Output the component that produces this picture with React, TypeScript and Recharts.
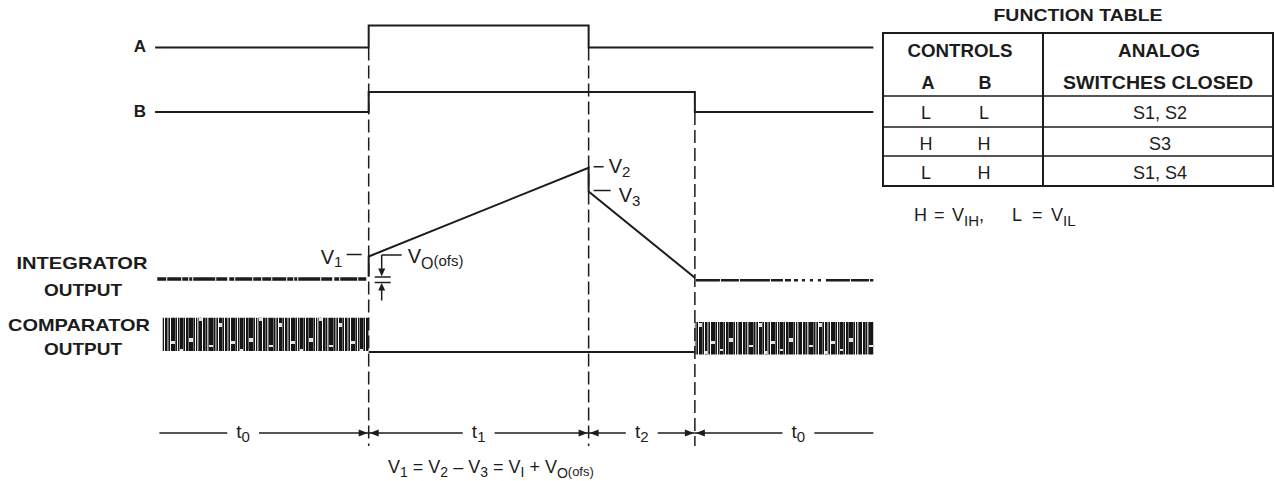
import React from "react";
import {
  ComposedChart,
  Line,
  XAxis,
  YAxis,
  ReferenceLine,
  ReferenceArea,
  ReferenceDot,
} from "recharts";

// time in arbitrary units, phase boundaries of one conversion cycle
const phaseNames = ["t0", "t1", "t2", "t0"];
const phaseEdges = [0, 19.7, 40.4, 50.4, 67.2];
const phaseLabelAt = [0.4, 0.5, 0.5, 0.58];

// control inputs (0 = L, 1 = H)
const signalA = [
  { t: -0.4, v: 0 },
  { t: 19.7, v: 0 },
  { t: 19.7, v: 1 },
  { t: 40.4, v: 1 },
  { t: 40.4, v: 0 },
  { t: 67.2, v: 0 },
];
const signalB = [
  { t: -0.4, v: 0 },
  { t: 19.7, v: 0 },
  { t: 19.7, v: 1 },
  { t: 50.4, v: 1 },
  { t: 50.4, v: 0 },
  { t: 67.2, v: 0 },
];

// integrator output (V)
const integratorRamp = [
  { t: 19.7, v: 0.1 },
  { t: 19.7, v: 0.9 },
  { t: 40.4, v: 4.45 },
  { t: 40.4, v: 3.5 },
  { t: 50.4, v: 0.05 },
];
const integratorIdleLeft = [
  { t: -0.2, v: 0 },
  { t: 19.5, v: 0 },
];
const integratorIdleRight = [
  { t: 50.5, v: -0.05 },
  { t: 67.2, v: -0.05 },
];
const markV1 = { t: 19.7, v: 0.9 };
const markV2 = { t: 40.4, v: 4.45 };
const markV3 = { t: 40.4, v: 3.5 };

// comparator output: low during t1/t2, toggling while idle
const comparatorLow = [
  { t: 19.7, v: 0 },
  { t: 50.4, v: 0 },
];
const comparatorBusy = [
  [0.3, 19.7],
  [50.4, 67.2],
];

const tableRows = [
  ["L", "L", "S1, S2"],
  ["H", "H", "S3"],
  ["L", "H", "S1, S4"],
];

const W = 1275;
const H = 481;
const FONT = "'Liberation Sans', Arial, Helvetica, sans-serif";
const INK = "#1c1c1c";

// y domain so that value 0 sits at zeroPx and one unit spans pxPerUnit
function yDomain(zeroPx: number, pxPerUnit: number): [number, number] {
  return [-(H - zeroPx) / pxPerUnit, zeroPx / pxPerUnit];
}
const rows = {
  a: { zero: 47.5, k: 22 },
  b: { zero: 112, k: 20 },
  int: { zero: 279, k: 25 },
  cmp: { zero: 352, k: 32 },
};
const RULER_Y = 433;
const GUIDE_BOTTOM = 446;
const guideTops = [rows.a.zero, rows.a.zero, rows.b.zero];

const sub = (s: string, size = 14, dy = 5) => (
  <tspan fontSize={size} dy={dy}>
    {s}
  </tspan>
);

function RulerLabel(props: any) {
  const { cx, cy, name } = props;
  return (
    <text x={cx} y={cy + 5} textAnchor="middle" fontFamily={FONT} fontSize={19} fill={INK}>
      {name[0]}
      {sub(name.slice(1), 15, 4)}
    </text>
  );
}

function EdgeArrows(props: any) {
  const { cx, cy } = props;
  return (
    <g fill={INK}>
      <path d={`M${cx - 1},${cy} L${cx - 10},${cy - 3.5} L${cx - 10},${cy + 3.5} Z`} />
      <path d={`M${cx + 1},${cy} L${cx + 10},${cy - 3.5} L${cx + 10},${cy + 3.5} Z`} />
    </g>
  );
}

function V1Mark(props: any) {
  const { cx, cy } = props;
  return (
    <g fontFamily={FONT} fill={INK}>
      <line x1={cx - 22} x2={cx - 7} y1={cy - 2} y2={cy - 2} stroke={INK} strokeWidth={1.5} />
      <text x={cx - 48} y={cy + 7} fontSize={20}>
        V{sub("1", 15, 3)}
      </text>
      {/* offset bracket */}
      <line x1={cx + 13} x2={cx + 33} y1={cy - 1.5} y2={cy - 1.5} stroke={INK} strokeWidth={1.5} />
      <line x1={cx + 13} x2={cx + 13} y1={cy - 1.5} y2={cy + 13} stroke={INK} strokeWidth={1.5} />
      <path d={`M${cx + 13},${cy + 20} L${cx + 9.5},${cy + 12} L${cx + 16.5},${cy + 12} Z`} />
      <line x1={cx + 6} x2={cx + 22} y1={cy + 20.5} y2={cy + 20.5} stroke={INK} strokeWidth={1.5} />
      <line x1={cx + 6} x2={cx + 22} y1={cy + 26} y2={cy + 26} stroke={INK} strokeWidth={1.5} />
      <path d={`M${cx + 13},${cy + 26.5} L${cx + 9.5},${cy + 34} L${cx + 16.5},${cy + 34} Z`} />
      <line x1={cx + 13} x2={cx + 13} y1={cy + 33} y2={cy + 44} stroke={INK} strokeWidth={1.5} />
      <text x={cx + 39} y={cy + 6} fontSize={20}>
        V{sub("O", 16, 6)}
        <tspan fontSize={15} dy={-3}>
          (ofs)
        </tspan>
      </text>
    </g>
  );
}

function VMark(props: any) {
  const { cx, cy, name, dash, gap, drop } = props;
  return (
    <g fontFamily={FONT} fill={INK}>
      <line x1={cx + 5} x2={cx + 5 + dash} y1={cy - 1} y2={cy - 1} stroke={INK} strokeWidth={1.5} />
      <text x={cx + gap} y={cy + 5 + drop} fontSize={20}>
        V{sub(name, 15, 4)}
      </text>
    </g>
  );
}

// irregular vertical hatching used as the "busy" comparator texture
function NoisePattern() {
  const dark: [number, number][] = [
    [0, 3], [4, 1], [6, 2], [9, 4], [14, 1], [16, 1], [19, 3], [23, 2], [26, 1], [29, 4],
    [34, 1.5], [37, 1], [39, 3], [43, 1], [45, 2.5], [49, 1], [51, 4], [56, 1], [58, 1.5],
  ];
  const grey: [number, number][] = [
    [3, 1], [8, 1], [13, 1], [17.5, 1.5], [25, 1], [27.5, 1.5], [33, 1], [36, 1], [42, 1], [48, 1], [55, 1],
  ];
  const holes: [number, number, number, number][] = [
    [9, 5, 4, 4], [19, 22, 3, 3], [29, 12, 4, 2], [39, 27, 3, 4], [51, 8, 4, 3], [0, 16, 3, 2], [45, 18, 2.5, 3],
  ];
  return (
    <pattern id="busy" width={60} height={37} patternUnits="userSpaceOnUse">
      {dark.map(([x, w], i) => (
        <rect key={"d" + i} x={x} y={0} width={w} height={37} fill="#161616" />
      ))}
      {grey.map(([x, w], i) => (
        <rect key={"g" + i} x={x} y={0} width={w} height={37} fill="#6a6a6a" />
      ))}
      {holes.map(([x, y, w, h], i) => (
        <rect key={"h" + i} x={x} y={y} width={w} height={h} fill="#e4e4e4" />
      ))}
    </pattern>
  );
}

function Overlay() {
  const label = (x: number, y: number, s: string, len?: number) => (
    <text
      x={x}
      y={y}
      textAnchor="middle"
      fontFamily={FONT}
      fontWeight="bold"
      fontSize={17}
      fill={INK}
      textLength={len}
      lengthAdjust="spacingAndGlyphs"
    >
      {s}
    </text>
  );
  const tx = { left: 883, right: 1273, mid: 1043, top: 33 };
  const rowLines = [96, 127, 156, 186];
  const txt = (x: number, y: number, s: string, weight = "normal", size = 18, len?: number) => (
    <text
      x={x}
      y={y}
      textAnchor="middle"
      fontFamily={FONT}
      fontWeight={weight}
      fontSize={size}
      fill={INK}
      textLength={len}
      lengthAdjust="spacingAndGlyphs"
    >
      {s}
    </text>
  );
  const fy = 221;
  return (
    <svg
      width={W}
      height={H}
      style={{ position: "absolute", left: 0, top: 0, pointerEvents: "none" }}
    >
      <defs>
        <NoisePattern />
      </defs>
      {label(140, 52, "A")}
      {label(140, 117, "B")}
      {label(82, 269, "INTEGRATOR", 131)}
      {label(83, 296, "OUTPUT", 78)}
      {label(79, 331, "COMPARATOR", 142)}
      {label(83, 355, "OUTPUT", 78)}

      {/* function table */}
      {txt(1078, 21, "FUNCTION TABLE", "bold", 17, 169)}
      <rect
        x={tx.left}
        y={tx.top}
        width={tx.right - tx.left}
        height={186 - tx.top}
        fill="none"
        stroke={INK}
        strokeWidth={2}
      />
      <line x1={tx.mid} x2={tx.mid} y1={tx.top} y2={186} stroke={INK} strokeWidth={2} />
      {rowLines.slice(0, 3).map((y) => (
        <line key={y} x1={tx.left} x2={tx.right} y1={y} y2={y} stroke={INK} strokeWidth={1.5} />
      ))}
      {txt(960, 57, "CONTROLS", "bold", 18, 105)}
      {txt(928, 89, "A", "bold", 18)}
      {txt(985, 89, "B", "bold", 18)}
      {txt(1159, 57, "ANALOG", "bold", 18, 82)}
      {txt(1158, 89, "SWITCHES CLOSED", "bold", 18, 190)}
      {tableRows.map((r, i) => (
        <g key={i}>
          {txt(926, rowLines[i] + 23, r[0])}
          {txt(984, rowLines[i] + 23, r[1])}
          {txt(1160, rowLines[i] + 23, r[2])}
        </g>
      ))}
      <text y={fy} fontFamily={FONT} fontSize={18} fill={INK}>
        <tspan x={914}>H</tspan>
        <tspan x={934}>=</tspan>
        <tspan x={952}>V</tspan>
        <tspan fontSize={15} dy={5}>IH</tspan>
        <tspan dy={-5}>,</tspan>
        <tspan x={1012}>L</tspan>
        <tspan x={1032}>=</tspan>
        <tspan x={1051}>V</tspan>
        <tspan fontSize={15} dy={5}>IL</tspan>
      </text>

      {/* relation under the time axis */}
      <text x={388} y={473} fontFamily={FONT} fontSize={18} fill={INK}>
        V{sub("1", 14, 4)}
        <tspan dy={-4}> = V</tspan>
        {sub("2", 14, 4)}
        <tspan dy={-4}> – V</tspan>
        {sub("3", 14, 4)}
        <tspan dy={-4}> = V</tspan>
        {sub("I", 14, 4)}
        <tspan dy={-4}> + V</tspan>
        {sub("O", 14, 5)}
        <tspan fontSize={13} dy={-2}>
          (ofs)
        </tspan>
      </text>
    </svg>
  );
}

const lineStyle = {
  type: "linear" as const,
  stroke: INK,
  dot: false,
  activeDot: false,
  isAnimationActive: false,
  legendType: "none" as const,
};

export default function App() {
  const xDomain: [number, number] = [-15, 105];
  const span = (i: number) => phaseEdges[i + 1] - phaseEdges[i];
  const gap = 1.5;
  return (
    <div style={{ position: "relative", width: W, height: H, background: "#fff" }}>
      <style>{"body{margin:0;background:#fff}"}</style>
      <ComposedChart width={W} height={H} margin={{ top: 0, right: 0, bottom: 0, left: 0 }}>
        <XAxis type="number" dataKey="t" domain={xDomain} allowDataOverflow hide />
        <YAxis yAxisId="a" type="number" domain={yDomain(rows.a.zero, rows.a.k)} allowDataOverflow hide />
        <YAxis yAxisId="b" type="number" domain={yDomain(rows.b.zero, rows.b.k)} allowDataOverflow hide />
        <YAxis yAxisId="int" type="number" domain={yDomain(rows.int.zero, rows.int.k)} allowDataOverflow hide />
        <YAxis yAxisId="cmp" type="number" domain={yDomain(rows.cmp.zero, rows.cmp.k)} allowDataOverflow hide />
        <YAxis yAxisId="frame" type="number" domain={[0, H]} reversed allowDataOverflow hide />

        {/* dashed guides at the phase boundaries */}
        {phaseEdges.slice(1, 4).map((t, i) => (
          <ReferenceLine
            key={"g" + i}
            yAxisId="frame"
            segment={[
              { x: t, y: guideTops[i] },
              { x: t, y: GUIDE_BOTTOM },
            ]}
            stroke={INK}
            strokeWidth={1.5}
            strokeDasharray="13 5"
          />
        ))}

        {/* timing ruler */}
        {phaseNames.map((name, i) => {
          const at = phaseEdges[i] + span(i) * phaseLabelAt[i];
          return (
            <React.Fragment key={"r" + i}>
              <ReferenceLine
                yAxisId="frame"
                segment={[
                  { x: phaseEdges[i], y: RULER_Y },
                  { x: at - gap, y: RULER_Y },
                ]}
                stroke={INK}
                strokeWidth={1.5}
              />
              <ReferenceLine
                yAxisId="frame"
                segment={[
                  { x: at + gap, y: RULER_Y },
                  { x: phaseEdges[i + 1], y: RULER_Y },
                ]}
                stroke={INK}
                strokeWidth={1.5}
              />
              <ReferenceDot
                yAxisId="frame"
                x={at}
                y={RULER_Y}
                r={0}
                shape={(p: any) => <RulerLabel {...p} name={name} />}
              />
            </React.Fragment>
          );
        })}
        {phaseEdges.slice(1, 4).map((t, i) => (
          <ReferenceDot key={"ar" + i} yAxisId="frame" x={t} y={RULER_Y} r={0} shape={EdgeArrows} />
        ))}

        {/* comparator toggling while idle */}
        {comparatorBusy.map(([x1, x2], i) => (
          <ReferenceArea
            key={"c" + i}
            yAxisId="cmp"
            x1={x1}
            x2={x2}
            y1={i === 0 ? 0.03 : -0.08}
            y2={i === 0 ? 1.07 : 0.94}
            fill="url(#busy)"
            fillOpacity={1}
            stroke="none"
          />
        ))}

        <Line {...lineStyle} data={signalA} dataKey="v" yAxisId="a" strokeWidth={2} />
        <Line {...lineStyle} data={signalB} dataKey="v" yAxisId="b" strokeWidth={2} />
        <Line {...lineStyle} data={integratorRamp} dataKey="v" yAxisId="int" strokeWidth={2} />
        <Line
          {...lineStyle}
          data={integratorIdleLeft}
          dataKey="v"
          yAxisId="int"
          strokeWidth={3.5}
          strokeDasharray="9 1 14 1 6 1 3 1 22 1 11 2 5 1 17 1 8 1"
        />
        <Line
          {...lineStyle}
          data={integratorIdleRight}
          dataKey="v"
          yAxisId="int"
          strokeWidth={2.5}
          strokeDasharray="24 1 18 1 30 1 12 2 6 3 4 4 3 5 3 5 3 5"
        />
        <Line {...lineStyle} data={comparatorLow} dataKey="v" yAxisId="cmp" strokeWidth={2} />

        <ReferenceDot yAxisId="int" x={markV1.t} y={markV1.v} r={0} shape={V1Mark} />
        <ReferenceDot
          yAxisId="int"
          x={markV2.t}
          y={markV2.v}
          r={0}
          shape={(p: any) => <VMark {...p} name="2" dash={10} gap={20} drop={0} />}
        />
        <ReferenceDot
          yAxisId="int"
          x={markV3.t}
          y={markV3.v}
          r={0}
          shape={(p: any) => <VMark {...p} name="3" dash={17} gap={30} drop={5} />}
        />
      </ComposedChart>
      <Overlay />
    </div>
  );
}
